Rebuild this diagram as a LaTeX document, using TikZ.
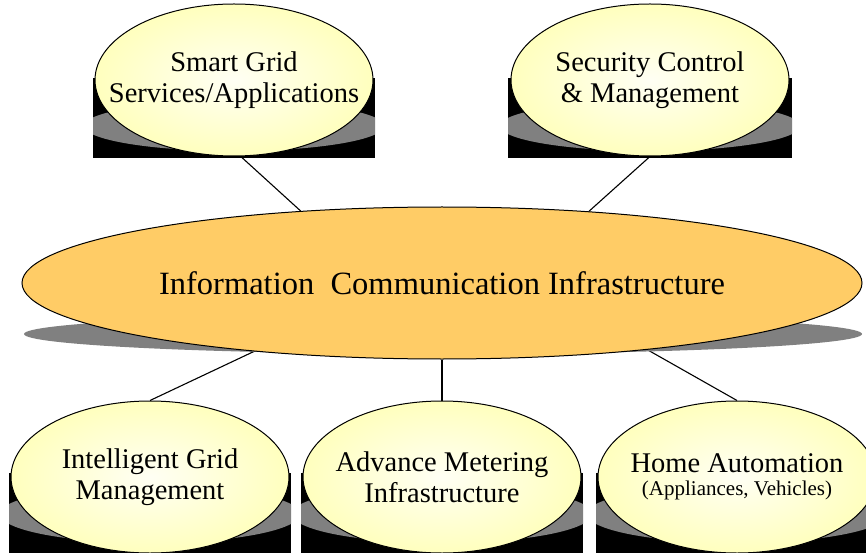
\documentclass[tikz,border=0pt]{standalone}
\usepackage{fontspec}
\setmainfont{Liberation Serif}
\usetikzlibrary{shapes.geometric,backgrounds}

\definecolor{bubblein}{RGB}{255,255,244}
\definecolor{bubbleout}{RGB}{255,255,190}
\definecolor{coreorange}{RGB}{255,204,102}
\definecolor{shadowgray}{RGB}{128,128,128}

\begin{document}
\begin{tikzpicture}[
    x=1pt, y=1pt,
    bubble/.style={ellipse, draw=black, line width=1pt, shading=radial, inner color=bubblein, outer color=bubbleout, minimum width=278pt, minimum height=152pt, inner sep=0pt},
    core/.style={ellipse, draw=black, line width=1pt, fill=coreorange, minimum width=840pt, minimum height=152pt, inner sep=0pt},
    caption/.style={align=center, font=\fontsize{28.5}{31}\selectfont},
    base/.style={fill=black},
    rim/.style={fill=shadowgray},
    link/.style={line width=1.1pt}
]
\useasboundingbox (0,0) rectangle (866,552);

% dark base and grey rim under each bubble
\fill[base] (93,394) rectangle (375,474);
\begin{scope}
  \clip (93,394) rectangle (375,474);
  \fill[rim] (234,426) ellipse (150 and 25);
\end{scope}
\fill[base] (508,394) rectangle (792,474);
\begin{scope}
  \clip (508,394) rectangle (792,474);
  \fill[rim] (650,426) ellipse (150 and 25);
\end{scope}
\fill[base] (9,-5) rectangle (291,79);
\begin{scope}
  \clip (9,-5) rectangle (291,79);
  \fill[rim] (150,38) ellipse (150 and 29);
\end{scope}
\fill[base] (301,-5) rectangle (583,79);
\begin{scope}
  \clip (301,-5) rectangle (583,79);
  \fill[rim] (442,38) ellipse (150 and 29);
\end{scope}
\fill[base] (596,-5) rectangle (878,79);
\begin{scope}
  \clip (596,-5) rectangle (878,79);
  \fill[rim] (737,38) ellipse (150 and 29);
\end{scope}
\fill[rim] (443,218) ellipse (419 and 20);

% bubbles
\node[core] (ici) at (442,269) {};
\node[bubble] (sg) at (234,472) {};
\node[bubble] (sc) at (650,472) {};
\node[bubble] (ig) at (150,75) {};
\node[bubble] (am) at (442,75) {};
\node[bubble] (ha) at (737,75) {};

\node[font=\fontsize{32.5}{36}\selectfont] (icitext) at (ici) {Information\ \ Communication Infrastructure};
\node[caption] (sgtext) at (sg) {Smart Grid\\Services/Applications};
\node[caption] (sctext) at (sc) {Security Control\\\& Management};
\node[caption] (igtext) at (ig) {Intelligent Grid\\Management};
\node[caption] (amtext) at (am) {Advance Metering\\Infrastructure};
\node[caption] (hatext) at (ha) {Home Automation\\[-8pt]{\fontsize{21}{24}\selectfont (Appliances, Vehicles)}};

% links
\begin{scope}[on background layer]
  \draw[link] (sg.-85) -- (ici.153.6);
  \draw[link] (sc.south) -- (ici.26);
  \draw[link] (ici.200.1) -- (ig.north);
  \draw[link] (ici.south) -- (am.north);
  \draw[link] (ici.342.4) -- (ha.north);
\end{scope}
\end{tikzpicture}
\end{document}
